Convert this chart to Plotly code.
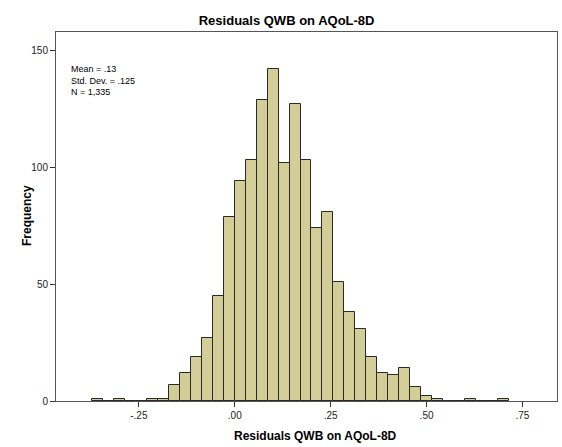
import plotly.graph_objects as go

# Histogram data
bin_width = 0.02857
first_bin_index = -13  # first bin's left edge = first_bin_index * bin_width
counts = [1, 0, 1, 0, 0, 1, 1, 7, 12, 19, 27, 45, 79,
          94, 103, 129, 142, 102, 127, 103, 74, 81, 51, 38, 31,
          19, 12, 11, 14, 6, 2, 1, 0, 0, 1, 0, 0, 1]
x_tick_vals = [-0.25, 0.0, 0.25, 0.50, 0.75]
x_tick_text = ["-.25", ".00", ".25", ".50", ".75"]
y_tick_vals = [0, 50, 100, 150]
stats_lines = ["Mean = .13", "Std. Dev. = .125", "N = 1,335"]
title_text = "Residuals QWB on AQoL-8D"
x_title = "Residuals QWB on AQoL-8D"
y_title = "Frequency"

centers = [(first_bin_index + i + 0.5) * bin_width for i in range(len(counts))]

fig = go.Figure()
fig.add_trace(go.Bar(
    x=centers, y=counts, width=[bin_width] * len(counts),
    marker=dict(color="#D3CE97", line=dict(color="#2a2a2a", width=1)),
    hoverinfo="x+y", showlegend=False,
))

FONT = "Arial, Liberation Sans, sans-serif"
PW, PH = 501, 369  # plot area size in px

fig.update_layout(
    width=562, height=447,
    margin=dict(l=56, r=5, t=32, b=46),
    paper_bgcolor="white", plot_bgcolor="white",
    bargap=0,
    font=dict(family=FONT, size=10, color="#000"),
    title=dict(text="<b>" + title_text + "</b>", x=0.51, xanchor="center",
               y=1 - 20 / 447, yanchor="middle",
               font=dict(family=FONT, size=13, color="#000")),
    xaxis=dict(
        range=[-0.466, 0.840], tickvals=x_tick_vals, ticktext=x_tick_text,
        ticks="outside", ticklen=5, tickcolor="#333", tickwidth=1,
        showline=True, linecolor="#555", linewidth=1, mirror=True,
        showgrid=False, zeroline=False, automargin=False,
        tickfont=dict(family=FONT, size=10, color="#222"),
    ),
    yaxis=dict(
        range=[0, 158], tickvals=y_tick_vals,
        ticks="outside", ticklen=5, tickcolor="#333", tickwidth=1,
        showline=True, linecolor="#555", linewidth=1, mirror=True,
        showgrid=False, zeroline=False, automargin=False,
        tickfont=dict(family=FONT, size=10, color="#222"),
    ),
    annotations=[
        dict(text="<br>".join(stats_lines), xref="paper", yref="paper",
             x=(69 - 56) / PW, y=(401 - 62) / PH, xanchor="left", yanchor="top",
             align="left", showarrow=False,
             font=dict(family=FONT, size=9, color="#000")),
        dict(text="<b>" + x_title + "</b>", xref="paper", yref="paper",
             x=(315 - 56) / PW, y=(401 - 436) / PH, xanchor="center", yanchor="middle",
             showarrow=False, font=dict(family=FONT, size=12, color="#000")),
        dict(text="<b>" + y_title + "</b>", xref="paper", yref="paper",
             x=(27 - 56) / PW, y=(401 - 216) / PH, xanchor="center", yanchor="middle",
             textangle=-90, showarrow=False,
             font=dict(family=FONT, size=12, color="#000")),
    ],
)

fig.write_html("out.html", post_script="document.body.style.margin='0';",
               config={"displayModeBar": False})
